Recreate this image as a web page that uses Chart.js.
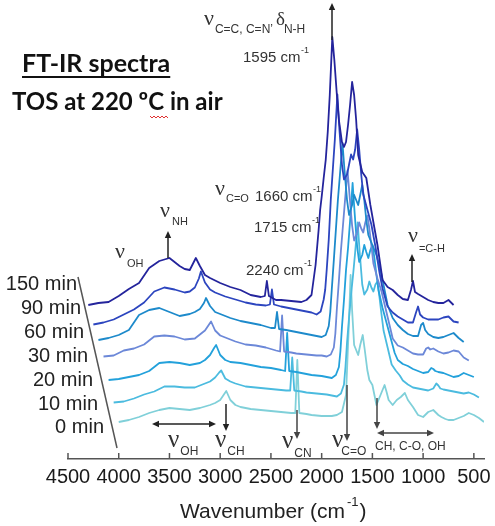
<!DOCTYPE html>
<html>
<head>
<meta charset="utf-8">
<script src="https://cdn.jsdelivr.net/npm/chart.js@4.4.1/dist/chart.umd.min.js"></script>
<style>
  html, body { margin: 0; padding: 0; background: #fff; }
  #wrap { width: 495px; height: 526px; position: relative; }
</style>
</head>
<body>
<div id="wrap"><canvas id="chart"></canvas></div>
<script>
// wavenumber grid (cm-1) shared by all spectra
const wavenumbers = [4000, 3900, 3800, 3700, 3600, 3500, 3400, 3300, 3200, 3100,
  3050, 3000, 2960, 2940, 2900, 2850, 2800, 2700, 2600, 2500,
  2400, 2300, 2260, 2240, 2220, 2150, 2100, 2000, 1900, 1850,
  1800, 1760, 1730, 1715, 1700, 1680, 1660, 1640, 1620, 1595,
  1575, 1550, 1530, 1500, 1480, 1460, 1440, 1420, 1400, 1380,
  1360, 1340, 1300, 1260, 1220, 1180, 1150, 1100, 1050, 1000,
  950, 900, 850, 820, 800, 780, 750, 700, 650, 600,
  550, 500, 450, 400];

// absorbance (a.u.)
const abs0 = [0, 2, 5, 9, 12, 14, 13, 12, 14, 17,
  19, 22, 28, 31, 22, 17, 15, 13, 12, 11,
  10, 9, 9, 62, 9, 8, 7, 6, 6, 7,
  10, 27, 102, 147, 112, 77, 72, 67, 77, 87,
  72, 52, 42, 37, 27, 17, 22, 27, 32, 37,
  30, 22, 17, 22, 25, 29, 22, 15, 7, 5,
  10, 12, 7, 5, 4, 3, 2, 2, 4, 6,
  9, 7, 4, 0];
const abs10 = [0, 1, 4, 8, 11, 16, 16, 15, 15, 19,
  21, 25, 30, 32, 24, 21, 19, 16, 15, 14,
  13, 12, 12, 45, 12, 11, 10, 9, 8, 7,
  6, 9, 18, 36, 60, 85, 108, 128, 150, 180,
  150, 118, 108, 113, 121, 115, 111, 118, 121, 105,
  88, 72, 55, 38, 32, 27, 22, 18, 15, 14,
  13, 12, 14, 19, 17, 14, 13, 12, 11, 10,
  9, 10, 8, 5];
const abs20 = [3, 4, 6, 8, 12, 20, 21, 20, 18, 20,
  23, 28, 35, 38, 28, 23, 21, 20, 18, 16,
  15, 13, 12, 50, 12, 11, 10, 8, 7, 6,
  5, 8, 16, 32, 56, 83, 113, 135, 162, 200,
  170, 136, 121, 128, 138, 131, 125, 133, 138, 125,
  108, 93, 75, 60, 45, 30, 23, 19, 17, 14,
  12, 10, 11, 15, 14, 12, 11, 10, 8, 6,
  7, 10, 8, 6];
const abs30 = [7, 8, 13, 15, 19, 27, 28, 27, 24, 25,
  29, 33, 39, 42, 33, 28, 26, 22, 19, 18,
  16, 13, 12, 48, 12, 11, 10, 9, 8, 8,
  7, 9, 16, 30, 55, 83, 113, 138, 163, 193,
  168, 138, 123, 131, 141, 135, 131, 141, 148, 135,
  118, 100, 85, 72, 55, 38, 25, 18, 16, 13,
  10, 9, 9, 15, 16, 14, 15, 12, 10, 11,
  13, 12, 6, 3];
const abs60 = [4, 6, 9, 14, 29, 34, 36, 32, 28, 30,
  32, 35, 41, 46, 38, 32, 30, 26, 23, 21,
  19, 16, 16, 32, 15, 14, 13, 11, 9, 8,
  7, 9, 18, 32, 55, 84, 114, 144, 169, 201,
  174, 144, 129, 139, 149, 144, 139, 149, 159, 144,
  124, 109, 99, 89, 74, 54, 39, 26, 19, 14,
  10, 8, 8, 19, 21, 14, 10, 7, 6, 7,
  9, 11, 6, 2];
const abs90 = [0, 2, 5, 10, 15, 22, 33, 37, 35, 32,
  33, 37, 46, 53, 42, 35, 32, 28, 25, 22,
  20, 19, 20, 35, 20, 18, 17, 15, 13, 12,
  10, 13, 25, 35, 55, 85, 125, 155, 185, 230,
  195, 160, 145, 150, 160, 170, 165, 175, 195, 175,
  150, 130, 115, 100, 78, 52, 36, 18, 12, 8,
  5, 2, 2, 12, 18, 10, 7, 5, 5, 5,
  7, 8, 3, 2];
const abs150 = [0, 2, 3, 9, 16, 22, 37, 44, 47, 39,
  36, 35, 43, 47, 39, 30, 27, 22, 18, 15,
  10, 8, 9, 24, 9, 5, 5, 4, 3, 5,
  10, 40, 75, 95, 108, 127, 145, 173, 210, 268,
  245, 210, 185, 163, 158, 163, 180, 200, 223, 210,
  185, 150, 133, 127, 100, 77, 60, 25, 18, 15,
  10, 6, 5, 15, 24, 13, 11, 8, 5, 3,
  2, 2, 5, 0];

const seriesLabels = ['0 min', '10 min', '20 min', '30 min', '60 min', '90 min', '150 min'];
const seriesValues = [abs0, abs10, abs20, abs30, abs60, abs90, abs150];
const seriesColors = ['#80d0d9', '#4bbbdf', '#23a1db', '#6c88d8', '#1d8acb', '#2c45bf', '#24249c'];
const tickValues = [4500, 4000, 3500, 3000, 2500, 2000, 1500, 1000, 500];

// waterfall stacking: each later spectrum moved back (left) and up
const SHIFT_X = 50;
const BASE_Y = 37;
const STEP_Y = 19.5;

const SANS = "'Liberation Sans', Arial, sans-serif";
const SERIF = "'Liberation Serif', 'Times New Roman', serif";
const BOLD = "Lato, 'Open Sans', sans-serif";
const ink = '#222';

const datasets = seriesValues.map((vals, i) => ({
  label: seriesLabels[i],
  data: wavenumbers.map((w, k) => ({ x: w + i * SHIFT_X, y: BASE_Y + i * STEP_Y + vals[k] })),
  borderColor: seriesColors[i],
  borderWidth: 1.8,
  borderJoinStyle: 'round',
  pointRadius: 0,
  tension: 0,
  order: seriesValues.length - 1 - i
}));

function txt(ctx, s, x, y, font, align, color) {
  ctx.font = font;
  ctx.fillStyle = color || ink;
  ctx.textAlign = align || 'left';
  ctx.textBaseline = 'alphabetic';
  ctx.fillText(s, x, y);
  return x + ctx.measureText(s).width;
}

function arrow(ctx, x1, y1, x2, y2) {
  const a = Math.atan2(y2 - y1, x2 - x1), h = 7, w = 3.2;
  ctx.beginPath();
  ctx.moveTo(x1, y1);
  ctx.lineTo(x2 - h * 0.8 * Math.cos(a), y2 - h * 0.8 * Math.sin(a));
  ctx.stroke();
  ctx.beginPath();
  ctx.moveTo(x2, y2);
  ctx.lineTo(x2 - h * Math.cos(a) + w * Math.sin(a), y2 - h * Math.sin(a) - w * Math.cos(a));
  ctx.lineTo(x2 - h * Math.cos(a) - w * Math.sin(a), y2 - h * Math.sin(a) + w * Math.cos(a));
  ctx.closePath();
  ctx.fill();
}

function cmText(ctx, num, x, y) {
  const e = txt(ctx, num + ' cm', x, y, '15px ' + SANS, 'left', '#333');
  txt(ctx, '-1', e + 0.5, y - 9, '9px ' + SANS, 'left', '#333');
}

function nu(ctx, x, y, sub, size, subSize, dx, dy) {
  const e = txt(ctx, '\u03bd', x, y, size + 'px ' + SERIF, 'left', '#333');
  txt(ctx, sub, e + (dx || 0), y + (dy || 8), subSize + 'px ' + SANS, 'left', '#333');
}

const annotations = {
  id: 'annotations',
  afterDraw(chart) {
    const ctx = chart.ctx;
    const xs = chart.scales.x;
    const axisY = chart.chartArea.bottom;
    ctx.save();

    // inward tick marks
    ctx.strokeStyle = '#555';
    ctx.lineWidth = 1.5;
    tickValues.forEach(v => {
      const x = xs.getPixelForValue(v);
      ctx.beginPath();
      ctx.moveTo(x, axisY);
      ctx.lineTo(x, axisY - 6);
      ctx.stroke();
    });

    // axis title
    let e = txt(ctx, 'Wavenumber (cm', 180, 518, '21px ' + SANS, 'left', '#222');
    e = txt(ctx, '-1', e + 2, 506, '13px ' + SANS, 'left', '#222');
    txt(ctx, ')', e + 1, 518, '21px ' + SANS, 'left', '#222');

    // titles
    ctx.font = 'bold 25px ' + BOLD;
    const tw = ctx.measureText('FT-IR spectra').width;
    txt(ctx, 'FT-IR spectra', 22, 72, 'bold 25px ' + BOLD, 'left', '#111');
    ctx.strokeStyle = '#111';
    ctx.lineWidth = 2;
    ctx.beginPath();
    ctx.moveTo(22, 77);
    ctx.lineTo(22 + tw, 77);
    ctx.stroke();
    txt(ctx, 'TOS at 220 \u00baC in air', 12, 110, 'bold 24px ' + BOLD, 'left', '#111');
    ctx.strokeStyle = '#e03030';
    ctx.lineWidth = 1;
    ctx.beginPath();
    for (let x = 150, k = 0; x <= 168; x += 2, k++) {
      if (k === 0) ctx.moveTo(x, 116); else ctx.lineTo(x, k % 2 ? 118 : 116);
    }
    ctx.stroke();

    // series labels and slanted guide
    const lab = [[104, 433], [98, 410], [93, 386], [88, 362], [84, 338], [81, 314], [77, 290]];
    seriesLabels.forEach((s, i) => txt(ctx, s, lab[i][0], lab[i][1], '20px ' + SANS, 'right', '#222'));
    ctx.strokeStyle = '#555';
    ctx.lineWidth = 1.5;
    ctx.beginPath();
    ctx.moveTo(78, 277);
    ctx.lineTo(117, 448);
    ctx.stroke();

    // peak annotations
    ctx.strokeStyle = '#222';
    ctx.fillStyle = '#222';
    ctx.lineWidth = 1.5;
    arrow(ctx, 332, 40, 332, 3);
    arrow(ctx, 168, 258, 168, 231);
    arrow(ctx, 412, 282, 412, 254);
    arrow(ctx, 184, 424, 152, 424);
    arrow(ctx, 184, 424, 216, 424);
    arrow(ctx, 226, 404, 226, 431);
    ctx.strokeStyle = '#444';
    ctx.fillStyle = '#444';
    arrow(ctx, 297, 410, 297, 439);
    arrow(ctx, 347, 385, 347, 441);
    arrow(ctx, 377, 398, 377, 429);
    arrow(ctx, 400, 433, 377, 433);
    arrow(ctx, 400, 433, 434, 433);

    // upper labels
    let p = txt(ctx, '\u03bd', 204, 25, '22px ' + SERIF, 'left', '#333');
    p = txt(ctx, 'C=C, C=N\u2019', p + 1, 33, '12px ' + SANS, 'left', '#333');
    p = txt(ctx, '\u03b4', p + 3, 25, '19px ' + SERIF, 'left', '#333');
    txt(ctx, 'N-H', p - 1, 33, '12px ' + SANS, 'left', '#333');
    cmText(ctx, '1595', 243, 62);

    nu(ctx, 215, 195, 'C=O', 22, 11, 1, 7);
    cmText(ctx, '1660', 255, 201);
    cmText(ctx, '1715', 254, 232);
    cmText(ctx, '2240', 246, 275);
    nu(ctx, 115, 258, 'OH', 22, 11, 2, 9);
    nu(ctx, 160, 217, 'NH', 22, 11, 2, 8);
    nu(ctx, 408, 242, '=C-H', 22, 11, 1, 10);

    // lower labels
    nu(ctx, 168, 447, 'OH', 25, 12, 1, 8);
    nu(ctx, 215, 447, 'CH', 25, 12, 1, 8);
    nu(ctx, 282, 448, 'CN', 25, 12, 1, 9);
    nu(ctx, 332, 447, 'C=O', 25, 12, -2, 8);
    txt(ctx, 'CH, C-O, OH', 375, 450, '12px ' + SANS, 'left', '#333');

    ctx.restore();
  }
};

new Chart(document.getElementById('chart'), {
  type: 'line',
  data: { datasets },
  options: {
    responsive: true,
    maintainAspectRatio: false,
    animation: false,
    layout: { padding: { left: 68, right: 11, top: 0, bottom: 0 } },
    plugins: { legend: { display: false }, tooltip: { enabled: false } },
    scales: {
      x: {
        type: 'linear',
        reverse: true,
        min: 400,
        max: 4500,
        afterBuildTicks: s => { s.ticks = tickValues.map(v => ({ value: v })); },
        afterFit: s => { s.height = 67; s.paddingLeft = 0; s.paddingRight = 0; },
        grid: { display: false, drawTicks: false },
        border: { display: true, color: '#555', width: 1.5 },
        ticks: {
          font: { family: SANS, size: 20 },
          color: '#1a1a1a',
          padding: 6,
          maxRotation: 0,
          autoSkip: false,
          callback: v => String(v)
        }
      },
      y: { display: false, min: 0, max: 459 }
    }
  },
  plugins: [annotations]
});
</script>
</body>
</html>
